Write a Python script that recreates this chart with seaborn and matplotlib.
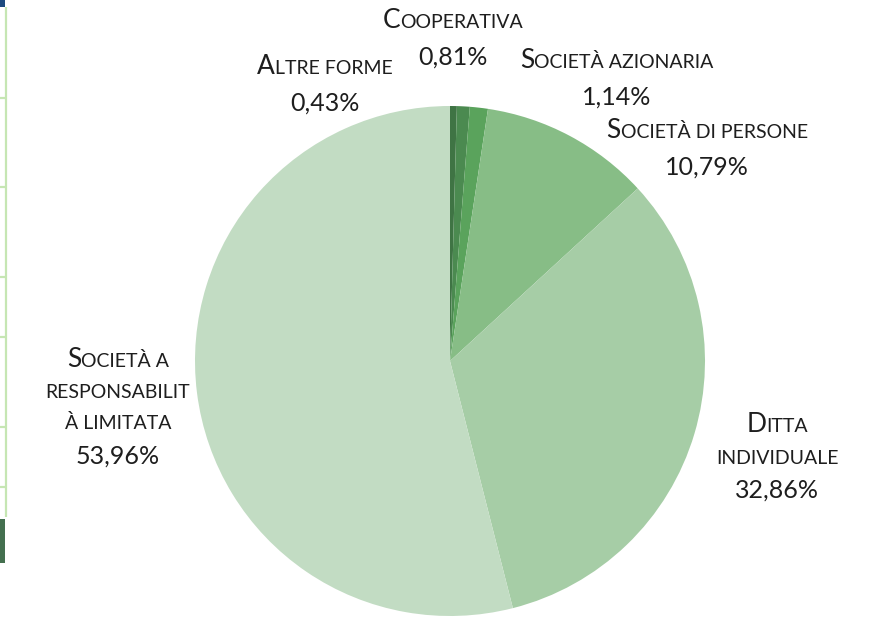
import matplotlib
matplotlib.use("Agg")
import matplotlib.pyplot as plt
import seaborn as sns
from matplotlib.offsetbox import TextArea, HPacker, VPacker, AnnotationBbox
from matplotlib.patches import Rectangle

# data
labels = ["Altre forme", "Cooperativa", "Società azionaria", "Società di persone",
          "Ditta individuale", "Società a responsabilità limitata"]
shares = [0.43, 0.81, 1.14, 10.79, 32.86, 53.96]
label_lines = [["Altre forme"], ["Cooperativa"], ["Società azionaria"],
               ["Società di persone"], ["Ditta", "individuale"],
               ["Società a", "responsabilit", "à limitata"]]
pct_text = ["0,43%", "0,81%", "1,14%", "10,79%", "32,86%", "53,96%"]
slice_colors = ["#3f7444", "#4b8a50", "#5aa35c", "#87bd86", "#a6cda6", "#c2dcc3"]

# label block centres in pixels (x, y from top)
label_pos = [(325, 84), (453, 38), (617, 78), (707, 148), (777, 457), (118, 407)]

W, H = 874, 618
BIG, SMALL, PCT = 19, 14, 18
TXT = "#1e1e1e"
FONT = ["Lato", "DejaVu Sans"]

sns.set_theme(style="white")
plt.rcParams["font.family"] = FONT

fig = plt.figure(figsize=(W / 100, H / 100), dpi=100)
ax = fig.add_axes([0, 0, 1, 1])

ax.pie(shares, colors=slice_colors, startangle=90, counterclock=False,
       center=(450, H - 361), radius=255, wedgeprops=dict(linewidth=0))
ax.set_xlim(0, W)
ax.set_ylim(0, H)
ax.set_aspect("equal")
ax.axis("off")


def small_caps_line(s):
    # split into runs: capitals big, lowercase shown as smaller capitals
    runs = []
    for ch in s:
        big = not ch.islower() and ch != " "
        if ch == " " and runs:
            big = runs[-1][1]
        if runs and runs[-1][1] == big:
            runs[-1][0] += ch
        else:
            runs.append([ch, big])
    parts = [TextArea(t.upper(), textprops=dict(fontsize=BIG if b else SMALL,
                                                color=TXT, family=FONT))
             for t, b in runs]
    return HPacker(children=parts, align="baseline", pad=0, sep=0)


for lines, pct, (px, py) in zip(label_lines, pct_text, label_pos):
    rows = [small_caps_line(l) for l in lines]
    rows.append(TextArea(pct, textprops=dict(fontsize=PCT, color=TXT, family=FONT)))
    box = VPacker(children=rows, align="center", pad=0, sep=9)
    ab = AnnotationBbox(box, (px, H - py), frameon=False, box_alignment=(0.5, 0.5))
    ax.add_artist(ab)

# slide decoration on the left edge
ax.plot([5.5, 5.5], [H - 7, H - 517], color="#c6e6b3", lw=1.6, solid_capstyle="butt")
for ty in [98, 187, 277, 337, 427, 487]:
    ax.plot([0, 5.5], [H - ty, H - ty], color="#c6e6b3", lw=1.6, solid_capstyle="butt")
ax.add_patch(Rectangle((0, H - 7), 5, 7, color="#1c4a7e", lw=0))
ax.add_patch(Rectangle((0, H - 563), 4.5, 44, color="#44704f", lw=0))

fig.savefig("out.png", dpi=100)
